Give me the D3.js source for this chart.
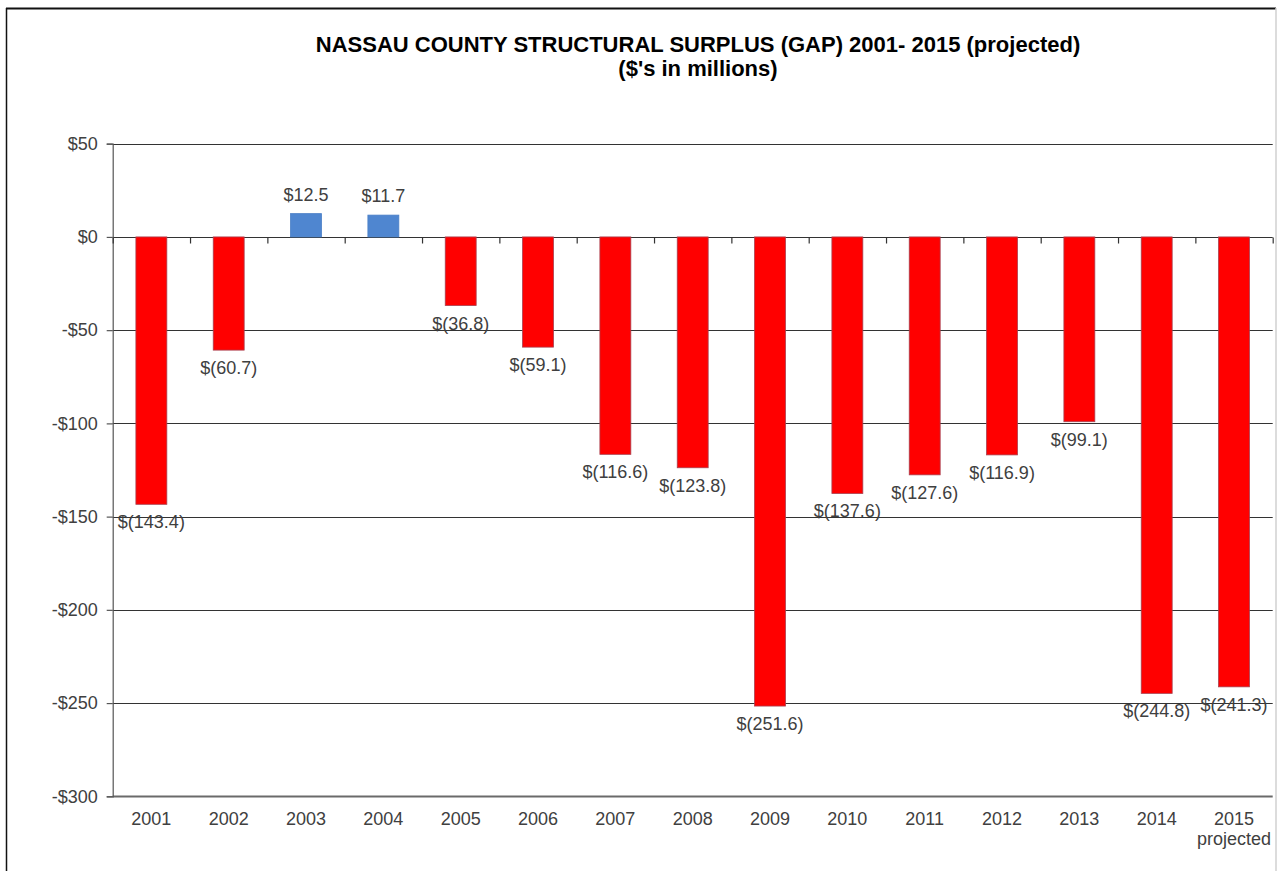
<!DOCTYPE html>
<html>
<head>
<meta charset="utf-8">
<script src="https://cdn.jsdelivr.net/npm/d3@7"></script>
<style>
  html, body { margin: 0; padding: 0; background: #fff; }
  svg { display: block; font-family: Arial, "Liberation Sans", sans-serif; }
</style>
</head>
<body>
<svg id="chart" width="1281" height="871"></svg>
<script>
const titleLines = ["NASSAU COUNTY STRUCTURAL SURPLUS (GAP) 2001- 2015 (projected)", "($'s in millions)"];
const categories = ["2001","2002","2003","2004","2005","2006","2007","2008","2009","2010","2011","2012","2013","2014","2015"];
const categorySubLabels = ["","","","","","","","","","","","","","","projected"];
const values = [-143.4, -60.7, 12.5, 11.7, -36.8, -59.1, -116.6, -123.8, -251.6, -137.6, -127.6, -116.9, -99.1, -244.8, -241.3];
const yTicks = [50, 0, -50, -100, -150, -200, -250, -300];

const svg = d3.select("#chart");
const plot = { left: 112.7, right: 1272.7, top: 143.7, bottom: 796.3 };

// frame
svg.append("line").attr("x1", 6).attr("x2", 1276).attr("y1", 8.5).attr("y2", 8.5)
  .attr("stroke", "#111").attr("stroke-width", 2);
svg.append("line").attr("x1", 6.5).attr("x2", 6.5).attr("y1", 8).attr("y2", 871)
  .attr("stroke", "#111").attr("stroke-width", 1.5);
svg.append("line").attr("x1", 1276).attr("x2", 1276).attr("y1", 8).attr("y2", 871)
  .attr("stroke", "#d0d0d0").attr("stroke-width", 1.5);

const x = d3.scaleBand().domain(categories).range([plot.left, plot.right])
  .paddingInner(0.6).paddingOuter(0.3);
const xEdge = d3.scaleLinear().domain([0, categories.length]).range([plot.left, plot.right]);
const y = d3.scaleLinear().domain([-300, 50]).range([plot.bottom, plot.top]);

// gridlines
svg.append("g").selectAll("line").data(yTicks).join("line")
  .attr("x1", plot.left).attr("x2", plot.right)
  .attr("y1", d => Math.round(y(d)) + 0.5).attr("y2", d => Math.round(y(d)) + 0.5)
  .attr("stroke", d => d === -300 ? "#6a6a6a" : "#333")
  .attr("stroke-width", d => d === -300 ? 1.8 : 1.2);

// y axis
const yAxis = d3.axisLeft(y).tickValues(yTicks).tickSize(6).tickPadding(9)
  .tickFormat(d => d < 0 ? "-$" + Math.abs(d) : "$" + d);
const gy = svg.append("g").attr("transform", `translate(${plot.left},0)`).call(yAxis);
gy.select(".domain").attr("stroke", "#555").attr("stroke-width", 1.2);
gy.selectAll(".tick line").attr("stroke", "#555").attr("stroke-width", 1.2);
gy.selectAll(".tick text").attr("fill", "#404040").attr("font-size", 18)
  .attr("font-family", "Arial, 'Liberation Sans', sans-serif");

// bars
svg.append("g").selectAll("rect").data(values).join("rect")
  .attr("x", (d, i) => x(categories[i]))
  .attr("width", x.bandwidth())
  .attr("y", d => y(Math.max(0, d)))
  .attr("height", d => Math.abs(y(d) - y(0)))
  .attr("fill", d => d >= 0 ? "#4f86d0" : "#ff0000")
  .attr("stroke", d => d >= 0 ? "#4a7fc6" : "#a8404f")
  .attr("stroke-width", 0.8);

// zero-line ticks between categories
const xAxis = d3.axisBottom(xEdge).tickValues(d3.range(0, categories.length + 1))
  .tickSize(6).tickFormat("");
const gx = svg.append("g").attr("transform", `translate(0,${Math.round(y(0)) + 0.5})`).call(xAxis);
gx.select(".domain").remove();
gx.selectAll(".tick line").attr("stroke", "#333").attr("stroke-width", 1.2);

// category labels
const cat = svg.append("g").attr("font-size", 18).attr("fill", "#404040").attr("text-anchor", "middle");
cat.selectAll("text.c").data(categories).join("text").attr("class", "c")
  .attr("x", d => x(d) + x.bandwidth() / 2).attr("y", 825).text(d => d);
cat.selectAll("text.s").data(categorySubLabels).join("text").attr("class", "s")
  .attr("x", (d, i) => x(categories[i]) + x.bandwidth() / 2).attr("y", 845).text(d => d);

// data labels
const fmt = d3.format(".1f");
svg.append("g").attr("font-size", 18).attr("fill", "#404040").attr("text-anchor", "middle")
  .selectAll("text").data(values).join("text")
  .attr("x", (d, i) => x(categories[i]) + x.bandwidth() / 2)
  .attr("y", d => d >= 0 ? y(d) - 13 : y(d) + 24)
  .text(d => d >= 0 ? "$" + fmt(d) : "$(" + fmt(-d) + ")");

// title
svg.append("g").attr("font-size", 22).attr("font-weight", "bold").attr("fill", "#000")
  .attr("text-anchor", "middle")
  .selectAll("text").data(titleLines).join("text")
  .attr("x", 698).attr("y", (d, i) => 52 + i * 24).text(d => d);
</script>
</body>
</html>
